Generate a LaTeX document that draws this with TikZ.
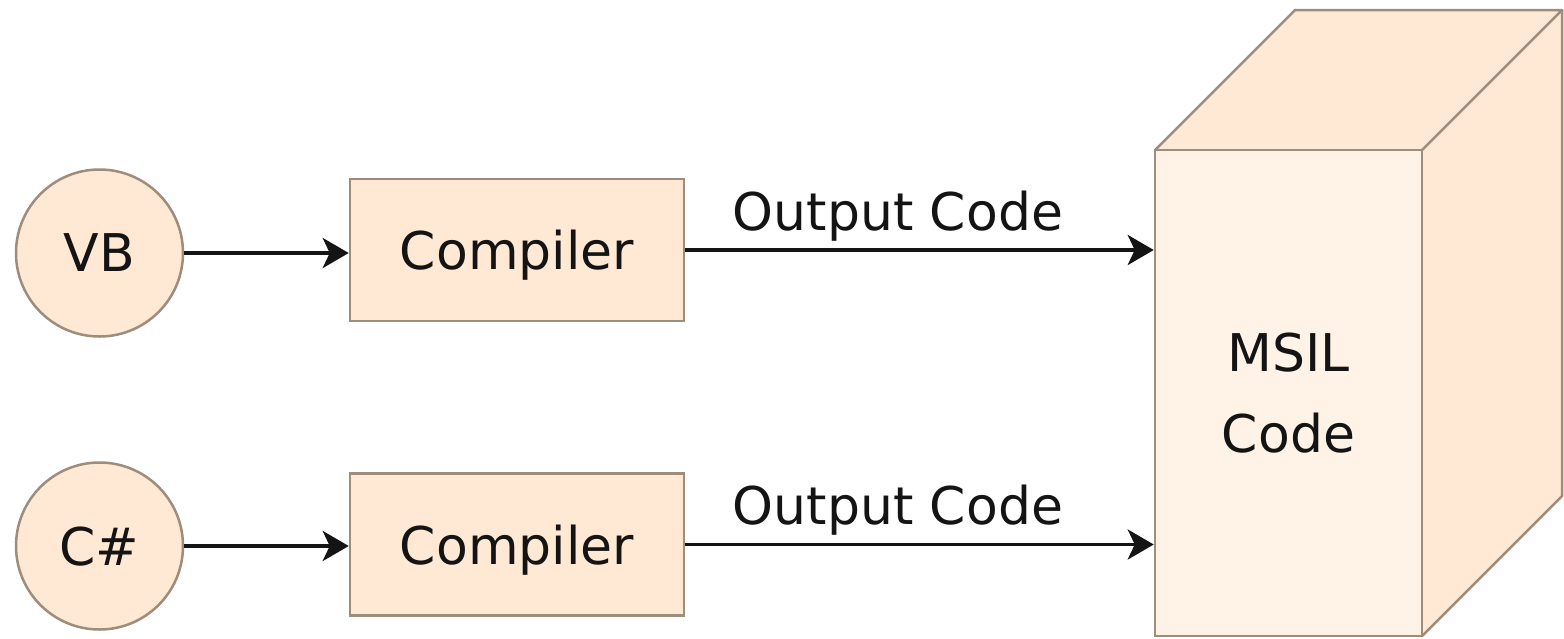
\documentclass[tikz,border=0pt]{standalone}
\usepackage{fontspec}
\setmainfont{DejaVu Sans}
\usetikzlibrary{arrows.meta}
\definecolor{fillc}{RGB}{255,233,212}
\definecolor{frontc}{RGB}{255,243,231}
\definecolor{edgec}{RGB}{158,140,125}
\definecolor{inkc}{RGB}{20,20,20}
\begin{document}
\begin{tikzpicture}[x=1pt,y=-1pt,
  every node/.style={font=\fontsize{52}{81}\selectfont, text=inkc},
  lang/.style={circle, draw=edgec, fill=fillc, line width=2.5pt, minimum size=167pt, inner sep=0pt, text depth=0pt},
  comp/.style={rectangle, draw=edgec, fill=fillc, line width=2.5pt, minimum width=334pt, minimum height=142pt, inner sep=0pt, text depth=0pt},
  face/.style={draw=edgec, line width=2.5pt, line join=round},
  conn/.style={draw=inkc, line width=3.5pt, -{Stealth[length=26pt, width=30pt, inset=7pt]}},
  lbl/.style={pos=0.454, anchor=base, yshift=20pt, inner sep=0pt}]
\useasboundingbox (0,0) rectangle (1564,638);

% cube faces (behind the front face)
\coordinate (ftl) at (1155,150);
\coordinate (ftr) at (1422,150);
\coordinate (fbr) at (1422,636);
\fill[fillc] (ftl) -- ++(140,-140) -- ++(267,0) -- ++(0,486) -- (fbr) -- (ftr) -- cycle;
\draw[face] (ftl) -- ++(140,-140) -- ++(267,0) -- (ftr);
\draw[face] ([shift={(267,0)}]ftl) ++(140,-140) -- ++(0,486) -- (fbr);

\node[draw=edgec, fill=frontc, line width=2.5pt, minimum width=267pt, minimum height=486pt, inner sep=0pt, align=center] (msil) at (1288.5,393) {MSIL\\Code};

\node[lang] (vb) at (99.5,253) {VB};
\node[lang] (cs) at (99.5,546) {C\#};
\node[comp] (cmp1) at (517,250) {Compiler};
\node[comp] (cmp2) at (517,544.5) {Compiler};

\draw[conn] (vb.east) -- (vb.east -| cmp1.west);
\draw[conn] (cs.east) -- (cs.east -| cmp2.west);
\draw[conn] (cmp1.east) -- node[lbl] (out1) {Output Code} (cmp1.east -| msil.west);
\draw[conn] (cmp2.east) -- node[lbl] (out2) {Output Code} (cmp2.east -| msil.west);
\end{tikzpicture}
\end{document}
